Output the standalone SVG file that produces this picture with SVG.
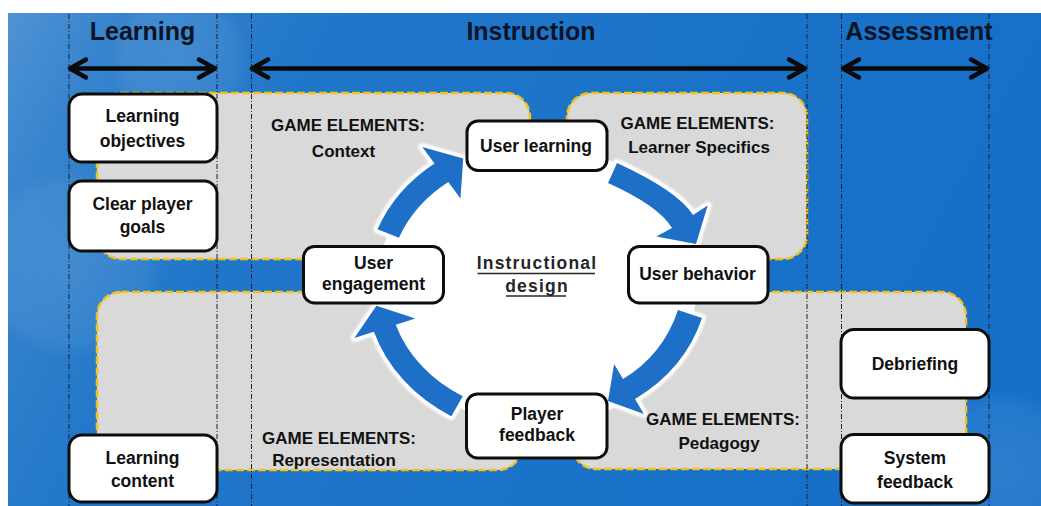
<svg xmlns="http://www.w3.org/2000/svg" width="1041" height="506" viewBox="0 0 1041 506">
  <defs>
    <linearGradient id="bg" x1="0" y1="0" x2="1" y2="0.25">
      <stop offset="0" stop-color="#4f93d4"/>
      <stop offset="0.1" stop-color="#3784cd"/>
      <stop offset="0.3" stop-color="#2076c9"/>
      <stop offset="1" stop-color="#1670c8"/>
    </linearGradient>
    <radialGradient id="bokeh" cx="0.5" cy="0.5" r="0.5">
      <stop offset="0" stop-color="#ffffff" stop-opacity="0.10"/>
      <stop offset="0.8" stop-color="#ffffff" stop-opacity="0.06"/>
      <stop offset="1" stop-color="#ffffff" stop-opacity="0"/>
    </radialGradient>
    <filter id="soft" x="-10%" y="-10%" width="120%" height="120%">
      <feGaussianBlur stdDeviation="0.9"/>
    </filter>
    <style>
      .region{fill:#d9d9d9;stroke:#f2c21b;stroke-width:2.5;stroke-dasharray:8 3}
      .guide{fill:none;stroke:#14213d;stroke-width:1;stroke-dasharray:5 2 1 2}
      .span{fill:none;stroke:#0a0a0a;stroke-width:4.5;stroke-linecap:round;stroke-linejoin:round}
      .box{fill:#ffffff;stroke:#0d0d0d;stroke-width:3}
      .halo{fill:#ffffff;stroke:#ffffff;stroke-width:8;stroke-linejoin:round;filter:url(#soft)}
      .cyc{fill:#1d6fc7}
      .t{font-family:"Liberation Sans",Arial,sans-serif;font-weight:bold;font-size:17.5px;fill:#111111;text-anchor:middle}
      .lbl{font-size:17px}
      .hdr{font-size:25px;fill:#0a1426}
      .core{fill:#262626;letter-spacing:1.2px}
      .ul{stroke:#262626;stroke-width:1.6}
    </style>
  </defs>

  <!-- backdrop -->
  <rect x="0" y="0" width="1041" height="506" fill="#ffffff"/>
  <rect x="8" y="13" width="1033" height="493" fill="url(#bg)"/>
  <circle cx="70" cy="265" r="95" fill="url(#bokeh)"/>
  <circle cx="180" cy="60" r="70" fill="url(#bokeh)"/>
  <circle cx="1000" cy="470" r="80" fill="url(#bokeh)"/>

  <!-- game element areas -->
  <g id="area-context">
    <rect class="region" x="97" y="93" width="433" height="166" rx="24"/>
    <text class="t lbl" x="348" y="131">GAME ELEMENTS:</text>
    <text class="t lbl" x="343.5" y="157">Context</text>
  </g>
  <g id="area-learner">
    <rect class="region" x="567" y="93" width="240" height="166" rx="24"/>
    <text class="t lbl" x="697.5" y="128.5">GAME ELEMENTS:</text>
    <text class="t lbl" x="699" y="153">Learner Specifics</text>
  </g>
  <g id="area-representation">
    <rect class="region" x="97" y="292" width="425" height="178" rx="24"/>
    <text class="t lbl" x="339" y="443.5">GAME ELEMENTS:</text>
    <text class="t lbl" x="334" y="465.5">Representation</text>
  </g>
  <g id="area-pedagogy">
    <rect class="region" x="572" y="292" width="394" height="177" rx="24"/>
    <text class="t lbl" x="723" y="425">GAME ELEMENTS:</text>
    <text class="t lbl" x="719" y="448.5">Pedagogy</text>
  </g>

  <!-- phase boundaries -->
  <g id="guides">
    <line class="guide" x1="69" y1="14" x2="69" y2="506"/>
    <line class="guide" x1="217" y1="14" x2="217" y2="506"/>
    <line class="guide" x1="251.5" y1="14" x2="251.5" y2="506"/>
    <line class="guide" x1="807" y1="14" x2="807" y2="506"/>
    <line class="guide" x1="841.5" y1="14" x2="841.5" y2="506"/>
    <line class="guide" x1="989" y1="14" x2="989" y2="506"/>
  </g>

  <!-- phase headings -->
  <g id="headings">
    <text class="t hdr" x="142.5" y="39.5">Learning</text>
    <text class="t hdr" x="531" y="39.5">Instruction</text>
    <text class="t hdr" x="919" y="39.5">Assessment</text>
  </g>

  <!-- central design space -->
  <g id="core">
    <ellipse cx="537" cy="285" rx="160" ry="140" fill="#ffffff"/>
    <text class="t core" x="537" y="268.5">Instructional</text>
    <text class="t core" x="537" y="292">design</text>
    <line class="ul" x1="477.5" y1="273.5" x2="595" y2="273.5"/>
    <line class="ul" x1="506" y1="296" x2="566" y2="296"/>
  </g>

  <!-- connectors -->
  <g id="connectors">
    <path class="span" d="M70,68.5 H215 M86,59.5 L70,68.5 L86,77.5 M199,59.5 L215,68.5 L199,77.5"/>
    <path class="span" d="M252,68.5 H805 M268,59.5 L252,68.5 L268,77.5 M789,59.5 L805,68.5 L789,77.5"/>
    <path class="span" d="M843,68.5 H987 M859,59.5 L843,68.5 L859,77.5 M971,59.5 L987,68.5 L971,77.5"/>

    <path id="cyc1" class="halo" d="M377.5,229.2 A171.5,151.5 0 0 1 434.5,163.5 L422.3,147.1 L463.2,158.5 L460.5,198.4 L448.3,182 A148.5,128.5 0 0 0 398.9,237.7 Z"/>
    <path id="cyc2" class="halo" d="M617,163 Q678,191 693,215 L707.7,205.6 L696,244 L656.3,236.4 L672,228 Q659,206 608,183 Z"/>
    <path id="cyc3" class="halo" d="M702,318 Q685,369 635,399 L643.9,413.9 L608,401 L614.1,364.1 L623,379 Q663,355 678,310 Z"/>
    <path id="cyc4" class="halo" d="M451.3,416.2 A171.5,151.5 0 0 1 373.9,331.8 L354.4,338.1 L376.4,305.8 L415.3,318.4 L395.8,324.7 A148.5,128.5 0 0 0 462.8,396.3 Z"/>
    <path class="cyc" d="M377.5,229.2 A171.5,151.5 0 0 1 434.5,163.5 L422.3,147.1 L463.2,158.5 L460.5,198.4 L448.3,182 A148.5,128.5 0 0 0 398.9,237.7 Z"/>
    <path class="cyc" d="M617,163 Q678,191 693,215 L707.7,205.6 L696,244 L656.3,236.4 L672,228 Q659,206 608,183 Z"/>
    <path class="cyc" d="M702,318 Q685,369 635,399 L643.9,413.9 L608,401 L614.1,364.1 L623,379 Q663,355 678,310 Z"/>
    <path class="cyc" d="M451.3,416.2 A171.5,151.5 0 0 1 373.9,331.8 L354.4,338.1 L376.4,305.8 L415.3,318.4 L395.8,324.7 A148.5,128.5 0 0 0 462.8,396.3 Z"/>
  </g>

  <!-- nodes -->
  <g id="learning-objectives">
    <rect class="box" x="69" y="94" width="148" height="68" rx="13"/>
    <text class="t" x="142.5" y="122">Learning</text>
    <text class="t" x="142.5" y="147">objectives</text>
  </g>
  <g id="clear-player-goals">
    <rect class="box" x="69" y="181" width="148" height="70" rx="13"/>
    <text class="t" x="142.5" y="210">Clear player</text>
    <text class="t" x="142.5" y="233">goals</text>
  </g>
  <g id="learning-content">
    <rect class="box" x="69" y="435" width="148" height="67" rx="13"/>
    <text class="t" x="142.5" y="463.5">Learning</text>
    <text class="t" x="142.5" y="487">content</text>
  </g>
  <g id="user-learning">
    <rect class="box" x="467" y="121" width="140" height="49.5" rx="11"/>
    <text class="t" x="536" y="152">User learning</text>
  </g>
  <g id="user-engagement">
    <rect class="box" x="303.5" y="246.5" width="140" height="56.5" rx="11"/>
    <text class="t" x="373.5" y="268.5">User</text>
    <text class="t" x="373.5" y="290">engagement</text>
  </g>
  <g id="user-behavior">
    <rect class="box" x="628.5" y="246.5" width="139.5" height="56.5" rx="11"/>
    <text class="t" x="697.5" y="279.5">User behavior</text>
  </g>
  <g id="player-feedback">
    <rect class="box" x="466.5" y="394" width="140.5" height="64" rx="11"/>
    <text class="t" x="537" y="420">Player</text>
    <text class="t" x="537" y="441">feedback</text>
  </g>
  <g id="debriefing">
    <rect class="box" x="841" y="329.5" width="148" height="68.5" rx="13"/>
    <text class="t" x="915" y="369.5">Debriefing</text>
  </g>
  <g id="system-feedback">
    <rect class="box" x="841" y="434.5" width="148" height="68.5" rx="13"/>
    <text class="t" x="915" y="463.5">System</text>
    <text class="t" x="915" y="487.5">feedback</text>
  </g>
</svg>
